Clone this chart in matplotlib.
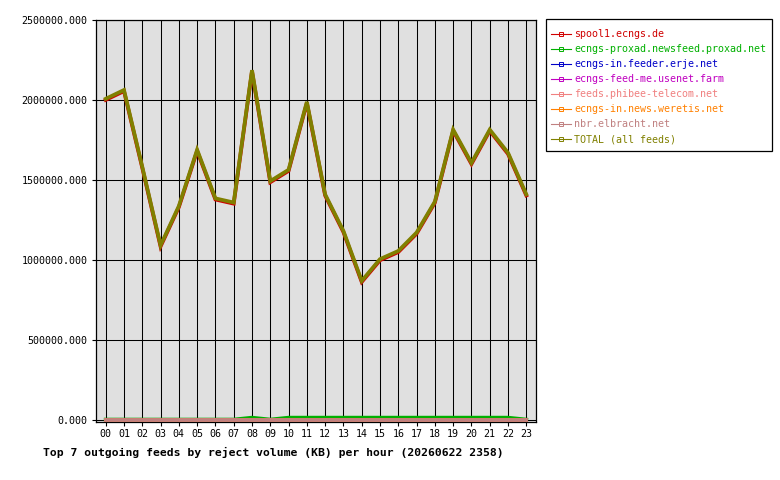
import matplotlib
matplotlib.use("Agg")
import matplotlib.pyplot as plt
from matplotlib.lines import Line2D
from matplotlib.patches import Rectangle

plt.rcParams.update({"font.family": "DejaVu Sans Mono"})

hours = ["%02d" % h for h in range(24)]

# reject volume (KB) per hour
spool1 = [2000000, 2055000, 1575000, 1083000, 1329000, 1681000, 1377000, 1351000,
          2179000, 1485000, 1556000, 1981000, 1402000, 1173000, 861000, 997000,
          1048000, 1163000, 1357000, 1807000, 1599000, 1807000, 1662000, 1402000]
proxad = [0, 0, 0, 0, 0, 0, 0, 0, 12000, 0, 12000, 12000, 12000, 12000, 12000, 12000,
          12000, 12000, 12000, 12000, 12000, 12000, 12000, 0]
erje = [0] * 24
usenet_farm = [0] * 24
phibee = [0] * 24
weretis = [0] * 24
elbracht = [0] * 24
total = [2007000, 2062000, 1582000, 1090000, 1336000, 1688000, 1384000, 1358000,
         2186000, 1492000, 1563000, 1988000, 1409000, 1180000, 868000, 1004000,
         1055000, 1170000, 1364000, 1814000, 1606000, 1814000, 1669000, 1409000]

feeds = [
    ("spool1.ecngs.de", spool1, "#d00000"),
    ("ecngs-proxad.newsfeed.proxad.net", proxad, "#00b000"),
    ("ecngs-in.feeder.erje.net", erje, "#0000c8"),
    ("ecngs-feed-me.usenet.farm", usenet_farm, "#c000c0"),
    ("feeds.phibee-telecom.net", phibee, "#f08080"),
    ("ecngs-in.news.weretis.net", weretis, "#ff8000"),
    ("nbr.elbracht.net", elbracht, "#c08080"),
    ("TOTAL (all feeds)", total, "#808000"),
]

W, H = 780, 480
fig = plt.figure(figsize=(W / 100, H / 100), dpi=100)
ax = fig.add_axes([96 / W, 1 - 421.5 / H, 440 / W, 401.5 / H])
ax.set_facecolor("#e0e0e0")

x = list(range(24))
for name, vals, col in feeds:
    ax.plot(x, vals, color=col, lw=2.7, solid_joinstyle="miter", zorder=3)

ax.set_xlim(-0.53, 23.53)
ax.set_ylim(-12000, 2500000)
ax.set_xticks(x)
ax.set_xticklabels(hours)
yt = [0, 500000, 1000000, 1500000, 2000000, 2500000]
ax.set_yticks(yt)
ax.set_yticklabels(["%.3f" % v for v in yt])
ax.tick_params(axis="both", direction="out", length=3, width=0.8,
               labelsize=7.2, colors="black")
ax.tick_params(axis="y", pad=3)
ax.tick_params(axis="x", pad=2.5)
ax.grid(True, color="black", lw=0.75, zorder=1)
ax.set_axisbelow(True)
for s in ax.spines.values():
    s.set_color("black")
    s.set_linewidth(0.9)

# legend box drawn separately so the padding can differ per side
fig.patches.append(Rectangle((546 / W, 1 - 151 / H), 226 / W, 132 / H,
                             transform=fig.transFigure, facecolor="white",
                             edgecolor="black", lw=0.9))
handles = [Line2D([0], [0], color=col, lw=0.8, marker="s", markersize=2.5,
                  markerfacecolor="none", markeredgecolor=col,
                  markeredgewidth=0.7, label=name)
           for name, vals, col in feeds]
leg = fig.legend(handles=handles, loc="upper left",
                 bbox_to_anchor=(546 / W, 1 - 24 / H), borderaxespad=0,
                 fontsize=7.2, frameon=False, labelcolor="linecolor",
                 handlelength=2.0, handletextpad=0.3, labelspacing=0.5,
                 borderpad=0.5)

fig.text(43 / W, 1 - 452 / H,
         "Top 7 outgoing feeds by reject volume (KB) per hour (20260622 2358)",
         fontsize=8.2, fontweight="bold", va="center", ha="left")

fig.savefig("out.png", dpi=100)
